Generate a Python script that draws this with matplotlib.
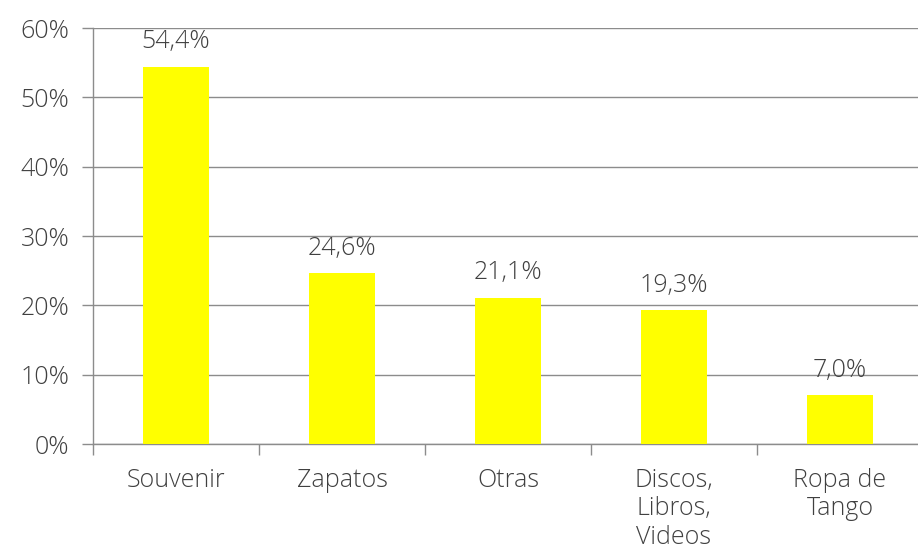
import matplotlib
matplotlib.use("Agg")
import matplotlib.pyplot as plt
from matplotlib.ticker import FuncFormatter

categories = ["Souvenir", "Zapatos", "Otras", "Discos,\nLibros,\nVideos", "Ropa de\nTango"]
values = [54.4, 24.6, 21.1, 19.3, 7.0]
yticks = [0, 10, 20, 30, 40, 50, 60]

plt.rcParams['font.family'] = ['Open Sans', 'DejaVu Sans']
txt = '#404040'
grid = '#8c8c8c'
fs = 18
fw = 'light'

W, H = 918, 552
fig = plt.figure(figsize=(W/100, H/100), dpi=100)
ax = fig.add_axes([93/W, (H-444)/H, (W-93)/W, (444-28)/H])

x = list(range(len(categories)))
ax.bar(x, values, width=0.4, color='#FFFF00', zorder=3)
for xi, v in zip(x, values):
    ax.annotate(f"{v:.1f}%".replace('.', ','), (xi, v), xytext=(0, 9),
                textcoords='offset points', ha='center', va='bottom',
                fontsize=fs, color=txt, fontweight=fw)

ax.set_ylim(0, 60)
ax.set_xlim(-0.5, -0.5 + (W-93)/166)
ax.set_yticks(yticks)
ax.yaxis.set_major_formatter(FuncFormatter(lambda v, p: f"{int(v)}%"))
ax.grid(axis='y', color=grid, linewidth=1, zorder=0)
ax.set_xticks(x)
ax.set_xticklabels(categories, fontsize=fs, color=txt, linespacing=1.2)
ax.set_xticks([i + 0.5 for i in range(-1, len(categories)-1)], minor=True)
ax.tick_params(axis='x', which='major', length=0, pad=17)
ax.tick_params(axis='x', which='minor', length=8, color=grid, width=1)
ax.tick_params(axis='y', length=8, color=grid, width=1, labelsize=fs, labelcolor=txt, pad=9)
for t in ax.get_xticklabels() + ax.get_yticklabels():
    t.set_fontweight(fw)
for s in ['top', 'right']:
    ax.spines[s].set_visible(False)
for s in ['left', 'bottom']:
    ax.spines[s].set_color(grid)
    ax.spines[s].set_linewidth(1)

fig.savefig('out.png', dpi=100)
